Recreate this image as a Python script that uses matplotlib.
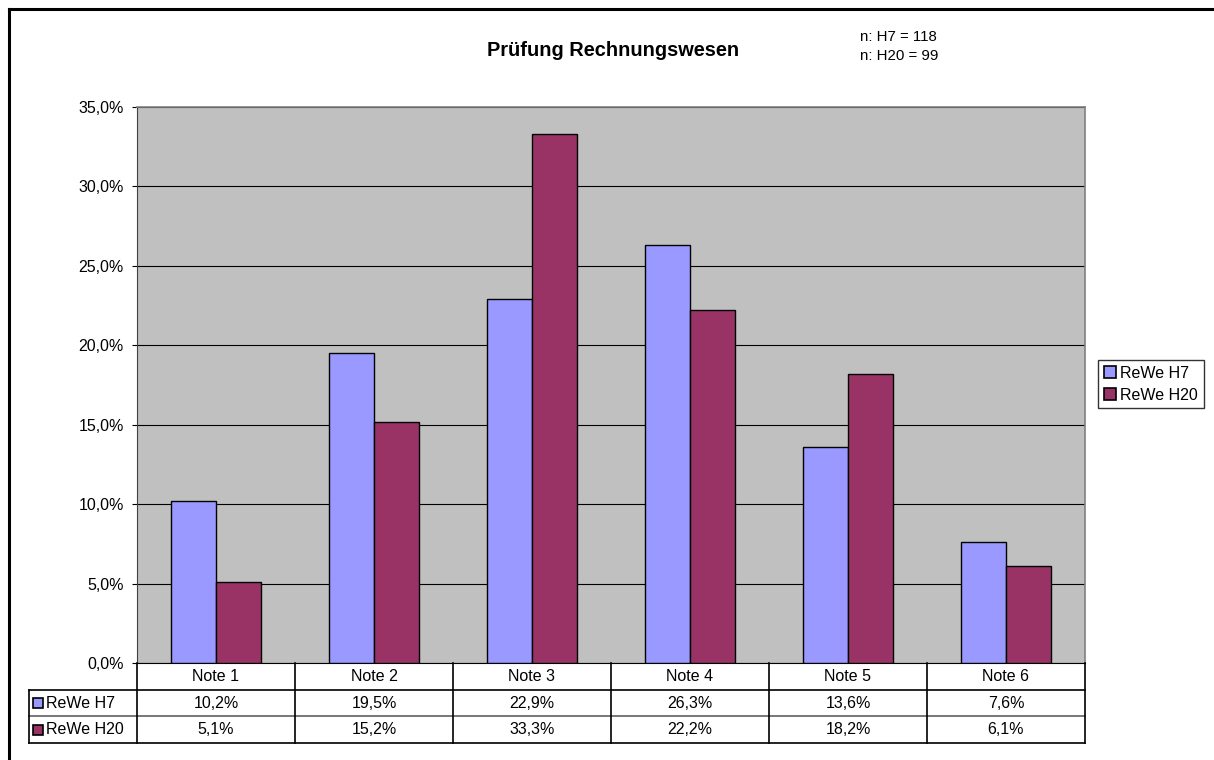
import matplotlib
matplotlib.use("Agg")
import matplotlib.pyplot as plt
from matplotlib.lines import Line2D
from matplotlib.patches import Patch
import numpy as np

plt.rcParams['font.family'] = ['Liberation Sans', 'DejaVu Sans']

categories = ["Note 1", "Note 2", "Note 3", "Note 4", "Note 5", "Note 6"]
series_names = ["ReWe H7", "ReWe H20"]
h7 = [10.2, 19.5, 22.9, 26.3, 13.6, 7.6]
h20 = [5.1, 15.2, 33.3, 22.2, 18.2, 6.1]
yticks = [0, 5, 10, 15, 20, 25, 30, 35]
title = "Prüfung Rechnungswesen"
note_lines = ["n: H7 = 118", "n: H20 = 99"]
colors = ["#9999FF", "#993366"]

W, H = 1214, 760
fig = plt.figure(figsize=(W / 100, H / 100), dpi=100)

def fx(px):
    return px / W

def fy(py):
    return 1 - py / H

# plot area in pixels
L, R, T, B = 137, 1085, 107, 663
TB = 743  # table bottom
TL = 29   # table left

ax = fig.add_axes([fx(L), fy(B), fx(R - L), (B - T) / H])
ax.set_facecolor("#C0C0C0")
x = np.arange(len(categories))
w = 1 / 3.5
series = [h7, h20]
for k, (vals, name, c) in enumerate(zip(series, series_names, colors)):
    ax.bar(x + (k - 0.5) * w, vals, width=w, color=c, edgecolor="black",
           linewidth=1.0, label=name, zorder=3)
ax.set_xlim(-0.5, len(categories) - 0.5)
ax.set_ylim(0, 35)
ax.set_yticks(yticks)
ax.set_yticklabels([f"{v:.1f}%".replace(".", ",") for v in yticks], fontsize=11.5)
ax.set_xticks([])
ax.yaxis.grid(True, color="black", linewidth=0.8, zorder=1)
ax.set_axisbelow(True)
ax.tick_params(axis="y", direction="out", length=3.6, width=0.8, pad=5.8, color="black")
for s in ["top", "right"]:
    ax.spines[s].set_color("#808080")
    ax.spines[s].set_linewidth(1.2)
ax.spines["left"].set_color("#404040")
ax.spines["bottom"].set_color("black")

# data table
tab = fig.add_axes([fx(TL), fy(TB), fx(R - TL), (TB - B) / H])
tab.set_axis_off()
ppu = (R - L) / len(categories)
xl = -0.5 - (L - TL) / ppu
tab.set_xlim(xl, len(categories) - 0.5)
tab.set_ylim(3, 0)
lc = "black"
lw = 1.2
tab.plot([xl, len(categories) - 0.5], [1, 1], color=lc, lw=lw, clip_on=False)
tab.plot([xl, len(categories) - 0.5], [2, 2], color="#606060", lw=lw, clip_on=False)
tab.plot([xl, len(categories) - 0.5], [3, 3], color=lc, lw=lw, clip_on=False)
for k in range(len(categories) + 1):
    tab.plot([k - 0.5, k - 0.5], [0, 3], color=lc, lw=lw, clip_on=False)
tab.plot([xl, xl], [1, 3], color=lc, lw=lw, clip_on=False)
for i, cat in enumerate(categories):
    tab.text(i, 0.5, cat, ha="center", va="center", fontsize=11.5)
    for r, vals in enumerate(series):
        tab.text(i, 1.5 + r, f"{vals[i]:.1f}%".replace(".", ","), ha="center",
                 va="center", fontsize=11.5)
for r, (name, c) in enumerate(zip(series_names, colors)):
    tab.plot([xl + 8.5 / ppu], [1.5 + r], marker="s", markersize=7.5,
             mfc=c, mec="black", mew=1.2, clip_on=False)
    tab.text(xl + 17 / ppu, 1.5 + r, name, ha="left", va="center", fontsize=11.5)

# title and note
fig.text(fx(613), fy(51), title, ha="center", va="center", fontsize=14.4,
         fontweight="bold")
fig.text(fx(860), fy(37), note_lines[0], ha="left", va="center", fontsize=10.8)
fig.text(fx(860), fy(56), note_lines[1], ha="left", va="center", fontsize=10.8)

# legend
handles = [Patch(facecolor=c, edgecolor="black", linewidth=1.2) for c in colors]
leg = fig.legend(handles, series_names, loc="upper left",
                 bbox_to_anchor=(fx(1098), fy(360)), borderaxespad=0,
                 fontsize=11.5, frameon=True, fancybox=False, shadow=False,
                 handlelength=0.75, handleheight=0.75, handletextpad=0.3,
                 borderpad=0.35, labelspacing=0.45)
leg.get_frame().set_edgecolor("black")
leg.get_frame().set_linewidth(1.0)

# outer frame (top and left visible)
fig.add_artist(Line2D([fx(9), 1.01], [fy(9), fy(9)], color="black", lw=2.2))
fig.add_artist(Line2D([fx(9), fx(9)], [fy(9), -0.01], color="black", lw=2.2))

fig.savefig("out.png", dpi=100)
